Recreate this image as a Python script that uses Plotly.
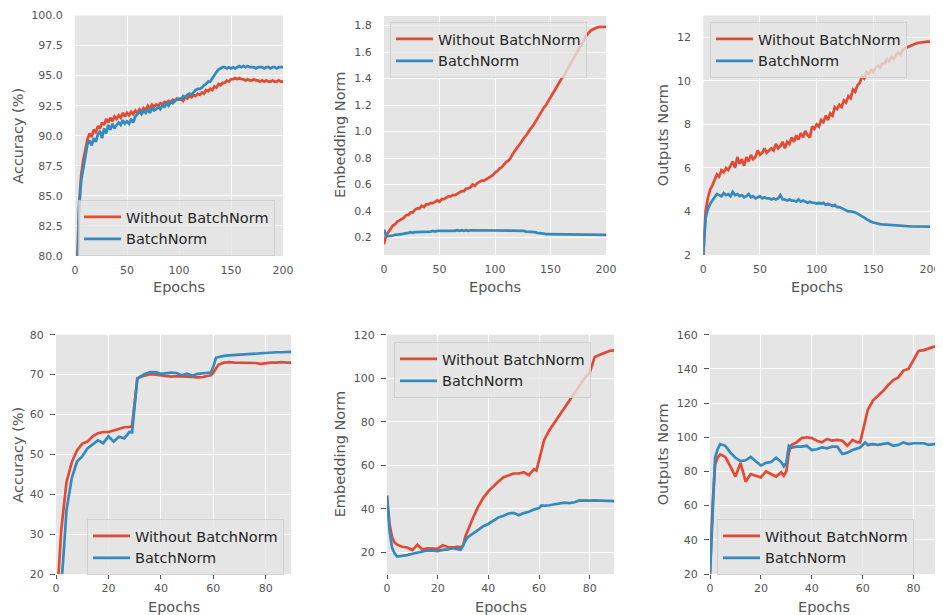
import plotly.graph_objects as go

# ---------------- data ----------------
epochs_top = list(range(0, 201, 2))
epochs_bot = [0, 1, 2, 3, 4, 6, 8, 10, 12, 14, 16, 18, 20, 22, 24, 26, 28,
              29, 30, 31, 32, 34, 36, 38, 40, 42, 44, 46, 48, 50, 52, 54, 56, 58,
              59, 60, 61, 62, 64, 66, 68, 70, 72, 74, 76, 78, 80, 82, 84, 86, 88, 90]

series_names = ["Without BatchNorm", "BatchNorm"]

acc_top_nobn = [
    70.0, 79.0, 84.5, 86.8, 88.0, 88.9, 89.7, 90.2, 89.9, 90.5,
    90.3, 90.8, 90.6, 91.1, 90.9, 91.4, 91.1, 91.5, 91.2, 91.6,
    91.4, 91.7, 91.5, 91.9, 91.6, 91.9, 91.7, 92.0, 91.8, 92.1,
    91.9, 92.2, 92.0, 92.3, 92.1, 92.5, 92.3, 92.6, 92.4, 92.6,
    92.5, 92.7, 92.6, 92.8, 92.7, 92.9, 92.8, 93.0, 92.9, 93.1,
    93.0, 93.1, 92.9, 93.2, 93.1, 93.3, 93.2, 93.4, 93.3, 93.5,
    93.4, 93.6, 93.5, 93.8, 93.7, 93.9, 93.8, 94.1, 94.0, 94.3,
    94.2, 94.4, 94.4, 94.6, 94.5, 94.7, 94.7, 94.8, 94.7, 94.8,
    94.7, 94.7, 94.6, 94.7, 94.6, 94.6, 94.7, 94.6, 94.6, 94.5,
    94.6, 94.5, 94.6, 94.5, 94.5, 94.6, 94.5, 94.5, 94.6, 94.5,
    94.5]
acc_top_bn = [
    70.0, 78.5, 84.0, 86.3, 87.5, 88.3, 89.3, 89.6, 89.2, 89.8,
    89.5, 90.1, 90.4, 89.8, 90.6, 90.2, 90.9, 90.5, 91.0, 90.6,
    90.9, 91.1, 90.9, 91.3, 91.0, 91.2, 91.0, 91.4, 91.1, 91.6,
    91.8, 92.0, 91.8, 92.1, 91.9, 92.2, 91.9, 92.3, 92.1, 92.2,
    92.4, 92.2, 92.5, 92.4, 92.7, 92.5, 92.8, 92.7, 92.9, 93.0,
    93.1, 93.0, 93.3, 93.2, 93.4, 93.5, 93.4, 93.6, 93.8, 93.9,
    93.9, 94.0, 94.2, 94.3, 94.5, 94.5, 94.8, 95.0, 95.3, 95.5,
    95.6, 95.7, 95.7, 95.6, 95.7, 95.6, 95.7, 95.6, 95.7, 95.8,
    95.7, 95.8, 95.7, 95.8, 95.7, 95.7, 95.7, 95.6, 95.7, 95.7,
    95.7, 95.6, 95.7, 95.7, 95.6, 95.7, 95.7, 95.6, 95.7, 95.7,
    95.7]

emb_top_nobn = [
    0.15, 0.22, 0.24, 0.27, 0.29, 0.30, 0.32, 0.33, 0.34, 0.35,
    0.37, 0.37, 0.39, 0.39, 0.41, 0.42, 0.42, 0.44, 0.43, 0.45,
    0.45, 0.46, 0.46, 0.47, 0.48, 0.47, 0.49, 0.49, 0.50, 0.51,
    0.51, 0.52, 0.52, 0.53, 0.54, 0.55, 0.55, 0.57, 0.57, 0.58,
    0.60, 0.59, 0.61, 0.62, 0.63, 0.63, 0.64, 0.65, 0.66, 0.67,
    0.69, 0.70, 0.72, 0.73, 0.75, 0.77, 0.78, 0.80, 0.83, 0.86,
    0.88, 0.90, 0.93, 0.95, 0.97, 1.00, 1.02, 1.04, 1.07, 1.09,
    1.12, 1.15, 1.18, 1.20, 1.23, 1.25, 1.29, 1.31, 1.35, 1.37,
    1.40, 1.42, 1.45, 1.48, 1.51, 1.54, 1.57, 1.60, 1.63, 1.67,
    1.70, 1.72, 1.74, 1.76, 1.77, 1.78, 1.785, 1.79, 1.79, 1.79,
    1.79]
emb_top_bn = [
    0.26, 0.21, 0.21, 0.21, 0.215, 0.22, 0.22, 0.22, 0.225, 0.23,
    0.23, 0.235, 0.24, 0.235, 0.24, 0.24, 0.24, 0.245, 0.24, 0.245,
    0.245, 0.245, 0.25, 0.245, 0.25, 0.25, 0.25, 0.245, 0.25, 0.25,
    0.25, 0.25, 0.25, 0.255, 0.25, 0.255, 0.25, 0.255, 0.25, 0.255,
    0.255, 0.25, 0.255, 0.255, 0.255, 0.255, 0.255, 0.255, 0.255, 0.255,
    0.255, 0.255, 0.255, 0.255, 0.255, 0.255, 0.255, 0.255, 0.255, 0.25,
    0.25, 0.25, 0.25, 0.25, 0.245, 0.245, 0.245, 0.24, 0.24, 0.235,
    0.235, 0.23, 0.23, 0.225, 0.225, 0.225, 0.225, 0.22, 0.22, 0.22,
    0.22, 0.22, 0.22, 0.22, 0.22, 0.22, 0.22, 0.22, 0.22, 0.22,
    0.22, 0.22, 0.22, 0.22, 0.22, 0.22, 0.22, 0.22, 0.22, 0.22,
    0.22]

out_top_nobn = [
    2.0, 4.0, 4.6, 5.0, 5.2, 5.5, 5.7, 5.6, 5.9, 5.8,
    6.0, 5.9, 6.1, 6.3, 6.0, 6.5, 6.2, 6.4, 6.1, 6.5,
    6.3, 6.6, 6.4, 6.5, 6.8, 6.6, 6.7, 6.9, 6.7, 6.8,
    6.9, 6.8, 7.1, 6.9, 7.0, 7.2, 6.9, 7.2, 7.1, 7.4,
    7.2, 7.5, 7.3, 7.6, 7.4, 7.7, 7.5, 7.4, 7.9, 7.8,
    8.0, 7.9, 8.2, 8.1, 8.4, 8.2, 8.5, 8.4, 8.8, 8.7,
    8.9, 8.8, 9.1, 9.0, 9.3, 9.2, 9.6, 9.5, 9.8, 9.9,
    10.2, 10.1, 10.4, 10.3, 10.5, 10.4, 10.6, 10.7, 10.6, 10.8,
    10.8, 11.0, 10.9, 11.1, 11.0, 11.2, 11.3, 11.2, 11.4, 11.5,
    11.55, 11.6, 11.65, 11.7, 11.72, 11.75, 11.77, 11.78, 11.79, 11.8,
    11.8]
out_top_bn = [
    2.0, 3.7, 4.1, 4.35, 4.5, 4.65, 4.8, 4.75, 4.7, 4.85,
    4.75, 4.8, 4.7, 4.9, 4.75, 4.8, 4.7, 4.75, 4.65, 4.7,
    4.8, 4.65, 4.7, 4.6, 4.65, 4.7, 4.6, 4.65, 4.6, 4.6,
    4.55, 4.6, 4.55, 4.6, 4.75, 4.55, 4.55, 4.5, 4.55, 4.5,
    4.5, 4.45, 4.55, 4.45, 4.5, 4.45, 4.4, 4.45, 4.4, 4.4,
    4.35, 4.4, 4.35, 4.4, 4.3, 4.35, 4.3, 4.25, 4.3, 4.2,
    4.2, 4.15, 4.1, 4.05, 4.0, 4.0, 3.98, 3.95, 3.9, 3.85,
    3.8, 3.72, 3.65, 3.58, 3.53, 3.49, 3.46, 3.44, 3.42, 3.41,
    3.40, 3.39, 3.38, 3.37, 3.36, 3.35, 3.34, 3.34, 3.33, 3.33,
    3.32, 3.32, 3.31, 3.31, 3.31, 3.3, 3.3, 3.3, 3.3, 3.3,
    3.3]

acc_bot_nobn = [10, 21, 31, 37, 43,
                48, 51, 52.7, 53.2, 54.5, 55.3, 55.6, 55.6, 56.0, 56.4, 56.8, 56.9,
                57.0, 63, 69, 69.4,
                69.8, 70.1, 70.0, 69.8, 69.6, 69.5, 69.6, 69.6, 69.5, 69.4, 69.3, 69.4, 69.7,
                69.8, 70.5, 71.5, 72.5,
                73.0, 73.1, 73.0, 73.0, 73.0, 72.9, 72.9, 72.7, 72.9, 73.0, 73.0, 73.1, 73.0,
                73.0]
acc_bot_bn = [5, 10, 17, 26, 36,
              44, 48.2, 49.5, 51.5, 52.5, 53.5, 52.8, 54.5, 53.2, 54.4, 54.0, 55.6,
              55.5, 62, 69, 69.4,
              70.2, 70.6, 70.6, 70.2, 70.3, 70.5, 70.4, 69.8, 70.2, 69.7, 70.2, 70.3, 70.4,
              70.5, 72, 74.2, 74.4,
              74.7, 74.8, 74.9, 75.0, 75.1, 75.2, 75.2, 75.3, 75.5, 75.6, 75.6, 75.6, 75.7,
              75.7]

emb_bot_nobn = [46, 33, 27, 24.5, 23.5,
                22.5, 22.2, 21.0, 23.5, 21.2, 21.8, 21.8, 21.6, 23.2, 22.4, 22.2, 22.6,
                22.2, 23.0, 27.5, 30.5,
                36, 41, 45, 48, 50.5, 52.5, 54.5, 55.5, 56.2, 56.2, 56.8, 55.4, 58.2,
                57.6, 62, 67, 71.5,
                76, 79.5, 83, 86.5, 90, 93.5, 96.5, 100, 102.5, 109.8, 110.8, 111.6, 112.6,
                112.8]
emb_bot_bn = [46, 30, 22, 19.5, 18,
              18.2, 18.7, 19.3, 19.7, 20.2, 20.8, 20.7, 20.5, 21.1, 21.3, 21.9, 21.6,
              21.2, 23, 25.5, 27,
              28.5, 30.3, 32, 33, 34.5, 36, 36.8, 37.8, 38.1, 37.0, 38.0, 38.6, 39.6,
              39.8, 40.3, 41.5, 41.3,
              41.6, 42.0, 42.3, 42.8, 42.6, 43.0, 43.8, 43.6, 43.7, 43.8, 43.7, 43.4, 43.5,
              43.5]

out_bot_nobn = [20, 60, 84, 88, 90,
                88.5, 83, 77, 85, 74, 78.5, 77.5, 76.5, 80, 78.5, 77, 79.5,
                77.5, 80, 91, 95.5,
                97, 99.5, 100, 99.5, 98, 97, 99, 98, 98.5, 98, 95, 98.5, 97,
                97, 104, 110, 116,
                121.5, 124, 127, 130.5, 133.5, 135, 139, 140, 145, 150.5, 151, 152, 153,
                153]
out_bot_bn = [20, 55, 88, 93, 96,
              95, 91, 88, 86, 86.5, 88.5, 86, 83.5, 85, 85.5, 88, 85.5,
              83, 85, 95, 94,
              94.5, 94.5, 95, 92.5, 93, 94, 93.5, 94.5, 94.5, 90.2, 91, 92.5, 93.5,
              94, 95.5, 97, 95.5,
              96, 95.5, 96, 96.5, 95, 95.5, 97, 96, 96.5, 96.5, 96.5, 95.5, 96,
              96]

for arr in (acc_top_nobn, acc_top_bn, emb_top_nobn, emb_top_bn, out_top_nobn, out_top_bn):
    assert len(arr) == len(epochs_top), len(arr)
for arr in (acc_bot_nobn, acc_bot_bn, emb_bot_nobn, emb_bot_bn, out_bot_nobn, out_bot_bn):
    assert len(arr) == len(epochs_bot), len(arr)

# ---------------- layout / style ----------------
# The page body has an 8px default margin, so the figure is drawn 8px in from the
# window corner; positions below are measured in window pixels and shifted back.
WIN_W, WIN_H = 943, 615
OFF = 8
W, H = WIN_W - OFF, WIN_H - OFF
RED, BLUE = "#E24A33", "#348ABD"
FONT = "DejaVu Sans"
TICK_COLOR = "#555555"


def fx(px):
    return (px - OFF) / W


def fy(py):
    return 1 - (py - OFF) / H


panels = [
    dict(x=epochs_top, ys=(acc_top_nobn, acc_top_bn), ytitle="Accuracy (%)",
         xd=(75, 283), yd=(15.5, 256), xr=[0, 200], xdt=50, yr=[80, 100], y0=80, ydt=2.5,
         fmt=".1f", ytx=18, xty=287, leg=(78, 200), row=0),
    dict(x=epochs_top, ys=(emb_top_nobn, emb_top_bn), ytitle="Embedding Norm",
         xd=(384, 606), yd=(16, 255), xr=[0, 200], xdt=50, yr=[0.068, 1.872], y0=0.2, ydt=0.2,
         fmt=".1f", ytx=340.5, xty=287, leg=(390, 22), row=0),
    dict(x=epochs_top, ys=(out_top_nobn, out_top_bn), ytitle="Outputs Norm",
         xd=(703.3, 930), yd=(15.5, 255), xr=[0, 200], xdt=50, yr=[2, 13], y0=2, ydt=2,
         fmt="d", ytx=663, xty=287, leg=(710, 22), row=0),
    dict(x=epochs_bot, ys=(acc_bot_nobn, acc_bot_bn), ytitle="Accuracy (%)",
         xd=(56, 291), yd=(334.7, 574), xr=[0, 89.6], xdt=20, yr=[20, 80], y0=20, ydt=10,
         fmt="d", ytx=18.3, xty=606.5, leg=(87, 519), row=1),
    dict(x=epochs_bot, ys=(emb_bot_nobn, emb_bot_bn), ytitle="Embedding Norm",
         xd=(387, 614), yd=(334.7, 574), xr=[0, 89.6], xdt=20, yr=[10, 120], y0=20, ydt=20,
         fmt="d", ytx=340, xty=606.5, leg=(394, 342), row=1),
    dict(x=epochs_bot, ys=(out_bot_nobn, out_bot_bn), ytitle="Outputs Norm",
         xd=(710, 938), yd=(334.7, 574), xr=[0, 89.6], xdt=20, yr=[20, 160], y0=20, ydt=20,
         fmt="d", ytx=663, xty=606.5, leg=(717, 519), row=1),
]

fig = go.Figure()
layout = dict(width=W, height=H, margin=dict(l=0, r=0, t=0, b=0, autoexpand=False),
              paper_bgcolor="white", plot_bgcolor="#E5E5E5",
              font=dict(family=FONT, color=TICK_COLOR), annotations=[])

tickfont = dict(family=FONT, size=11, color=TICK_COLOR)
titlefont = dict(family=FONT, size=14.5, color=TICK_COLOR)

for i, p in enumerate(panels, start=1):
    sfx = "" if i == 1 else str(i)
    legname = "legend" + sfx
    for name, ys, col in zip(series_names, p["ys"], (RED, BLUE)):
        fig.add_trace(go.Scatter(
            x=p["x"], y=ys, name=name, mode="lines",
            line=dict(color=col, width=2.7),
            xaxis="x" + sfx, yaxis="y" + sfx, legend=legname, showlegend=True,
        ))
    tick_col = TICK_COLOR if p["row"] == 1 else "rgba(0,0,0,0)"
    layout["xaxis" + sfx] = dict(
        domain=[fx(p["xd"][0]), fx(p["xd"][1])], anchor="y" + sfx, automargin=False,
        range=p["xr"], tick0=0, dtick=p["xdt"], showgrid=True, gridcolor="white",
        gridwidth=1.2, zeroline=False, showline=False, ticks="outside", ticklen=4,
        tickcolor=tick_col, tickfont=tickfont,
    )
    layout["yaxis" + sfx] = dict(
        domain=[fy(p["yd"][1]), fy(p["yd"][0])], anchor="x" + sfx, automargin=False,
        range=p["yr"], tick0=p["y0"], dtick=p["ydt"], tickformat=p["fmt"],
        showgrid=True, gridcolor="white", gridwidth=1.2, zeroline=False, showline=False,
        ticks="outside", ticklen=5, tickcolor=tick_col, tickfont=tickfont,
        ticklabelstandoff=4,
    )
    layout[legname] = dict(
        x=fx(p["leg"][0]), y=fy(p["leg"][1]), xanchor="left", yanchor="top",
        bgcolor="rgba(229,229,229,0.8)", bordercolor="rgba(204,204,204,0.8)", borderwidth=1,
        font=dict(family=FONT, size=14.5, color="#262626"), itemwidth=37,
    )
    xc = (p["xd"][0] + p["xd"][1]) / 2
    yc = (p["yd"][0] + p["yd"][1]) / 2
    layout["annotations"].append(dict(
        text="Epochs", x=fx(xc), y=fy(p["xty"]), xref="paper", yref="paper",
        xanchor="center", yanchor="middle", showarrow=False, font=titlefont))
    layout["annotations"].append(dict(
        text=p["ytitle"], x=fx(p["ytx"]), y=fy(yc), xref="paper", yref="paper",
        xanchor="center", yanchor="middle", textangle=-90, showarrow=False, font=titlefont))

fig.update_layout(**layout)
fig.write_html("out.html")
